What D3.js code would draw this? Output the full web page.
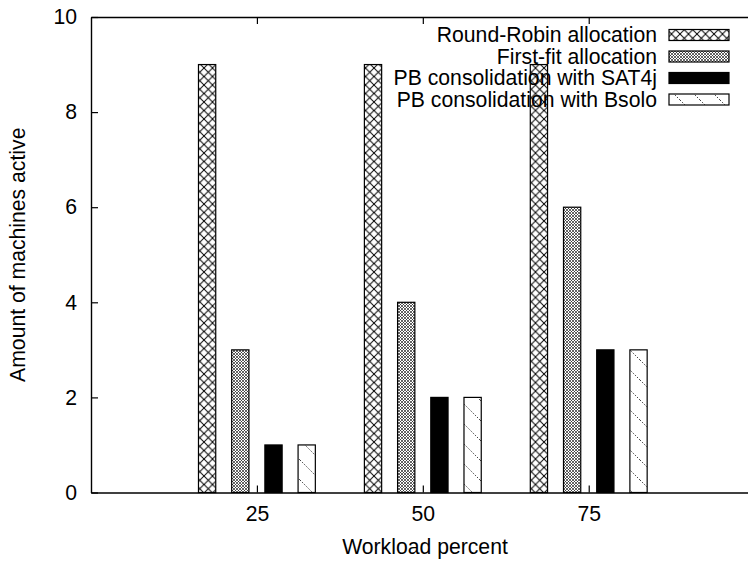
<!DOCTYPE html>
<html>
<head>
<meta charset="utf-8">
<script src="https://cdn.jsdelivr.net/npm/d3@7"></script>
<style>
  html, body { margin: 0; padding: 0; background: #fff; }
  svg { display: block; font-family: "Liberation Sans", Arial, Helvetica, sans-serif; }
</style>
</head>
<body>
<svg id="chart" width="748" height="561"></svg>
<script>
// Workload levels (x axis) and active machine counts per allocation strategy
const workloads = [25, 50, 75];
const seriesNames = [
  "Round-Robin allocation",
  "First-fit allocation",
  "PB consolidation with SAT4j",
  "PB consolidation with Bsolo"
];
const roundRobin = [9, 9, 9];
const firstFit = [3, 4, 6];
const sat4j = [1, 2, 3];
const bsolo = [1, 2, 3];
const yTickValues = [0, 2, 4, 6, 8, 10];

const seriesValues = [roundRobin, firstFit, sat4j, bsolo];
const fills = ["url(#pRR)", "url(#pFF)", "#000", "url(#pBS)"];

const svg = d3.select("#chart");
const plotLeft = 91, plotRight = 748, plotTop = 17, plotBottom = 492.5;
const fs = "21.2px";

const x = d3.scaleLinear().domain([0, 99]).range([plotLeft, plotRight]);
const y = d3.scaleLinear().domain([0, 10]).range([plotBottom, plotTop]);
const inner = d3.scaleBand().domain(seriesNames)
  .range([-66.4, 66.4]).paddingInner(0.48).paddingOuter(0.24);

// Fill patterns
const defs = svg.append("defs");
const pRR = defs.append("pattern").attr("id", "pRR")
  .attr("patternUnits", "userSpaceOnUse").attr("width", 8.5).attr("height", 8.5);
pRR.append("path").attr("d", "M0,0L8.5,8.5M8.5,0L0,8.5")
  .attr("stroke", "#000").attr("stroke-width", 1).attr("fill", "none");

const pFF = defs.append("pattern").attr("id", "pFF")
  .attr("patternUnits", "userSpaceOnUse").attr("width", 6).attr("height", 6);
pFF.append("path").attr("d", "M0,0L6,6M6,0L0,6M3,0L6,3L3,6L0,3Z")
  .attr("stroke", "#222").attr("stroke-width", 0.7).attr("fill", "none");

const pBS = defs.append("pattern").attr("id", "pBS")
  .attr("patternUnits", "userSpaceOnUse").attr("width", 20).attr("height", 20);
pBS.append("path").attr("d", "M0,0L20,20M-10,10L10,30M10,-10L30,10")
  .attr("stroke", "#444").attr("stroke-width", 1)
  .attr("stroke-dasharray", "1.5,1.5").attr("fill", "none");

// Legend (drawn first so bars sit on top of it)
const legend = svg.append("g");
seriesNames.forEach((name, i) => {
  const cy = 35 + i * 21.5;
  legend.append("text")
    .attr("x", 657).attr("y", cy).attr("dy", "0.35em")
    .attr("text-anchor", "end").attr("font-size", fs).attr("fill", "#000")
    .text(name);
  legend.append("rect")
    .attr("x", 669).attr("y", cy - 5.5).attr("width", 60).attr("height", 11)
    .attr("fill", fills[i]).attr("stroke", "#000").attr("stroke-width", 1.2);
});

// Bars
seriesNames.forEach((name, si) => {
  svg.append("g").selectAll("rect")
    .data(workloads.map((w, i) => ({ w, v: seriesValues[si][i] })))
    .join("rect")
    .attr("x", d => x(d.w) + inner(name))
    .attr("width", inner.bandwidth())
    .attr("y", d => y(d.v))
    .attr("height", d => y(0) - y(d.v))
    .attr("fill", fills[si])
    .attr("stroke", "#000").attr("stroke-width", 1.2);
});

// Axes
const yAxis = svg.append("g").attr("transform", `translate(${plotLeft},0)`)
  .call(d3.axisLeft(y).tickValues(yTickValues).tickSize(-7).tickSizeOuter(0).tickPadding(14));
const xAxis = svg.append("g").attr("transform", `translate(0,${plotBottom})`)
  .call(d3.axisBottom(x).tickValues(workloads).tickSize(-7).tickSizeOuter(0).tickPadding(13));
const topAxis = svg.append("g").attr("transform", `translate(0,${plotTop})`)
  .call(d3.axisTop(x).tickValues(workloads).tickSize(-7).tickSizeOuter(0).tickFormat(""));

[yAxis, xAxis, topAxis].forEach(g => {
  g.selectAll("text").attr("font-size", fs).attr("font-family", "Liberation Sans, Arial, sans-serif").attr("fill", "#000");
  g.selectAll("line").attr("stroke", "#000").attr("stroke-width", 1.2);
  g.select(".domain").attr("stroke", "#000").attr("stroke-width", 1.4);
});

// Axis titles
svg.append("text")
  .attr("x", 425).attr("y", 554).attr("text-anchor", "middle")
  .attr("font-size", fs).attr("fill", "#000")
  .text("Workload percent");
svg.append("text")
  .attr("transform", `translate(25,${(plotTop + plotBottom) / 2}) rotate(-90)`)
  .attr("text-anchor", "middle").attr("font-size", fs).attr("fill", "#000")
  .text("Amount of machines active");
</script>
</body>
</html>
